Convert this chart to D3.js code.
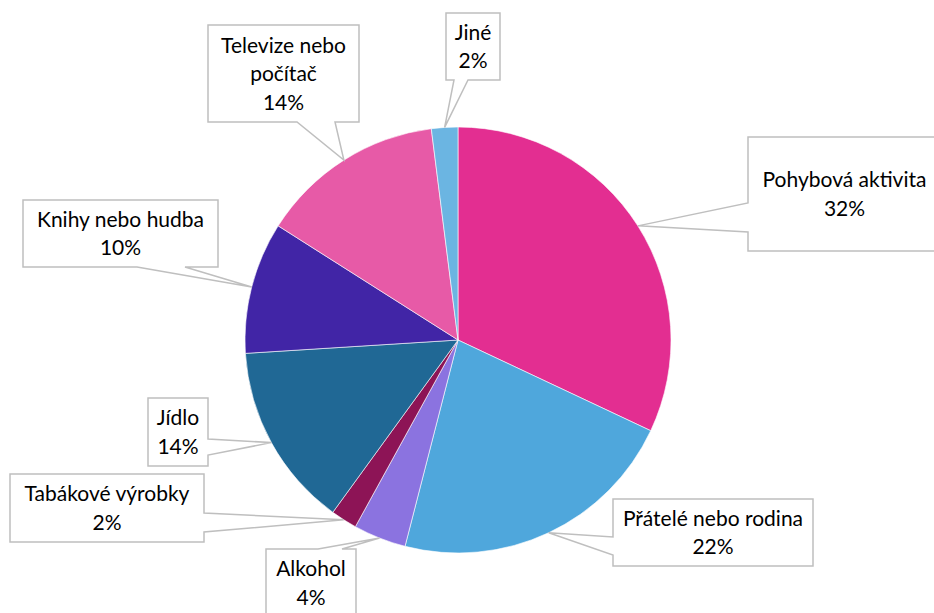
<!DOCTYPE html>
<html>
<head>
<meta charset="utf-8">
<script src="https://cdn.jsdelivr.net/npm/d3@7"></script>
<style>
  html, body { margin: 0; padding: 0; background: #ffffff; }
  svg { display: block; }
  text { font-family: Lato, "Open Sans", sans-serif; fill: #000000; }
</style>
</head>
<body>
<svg id="chart" width="934" height="613"></svg>
<script>
// Categories, shares (%) and slice colours, clockwise from 12 o'clock
const categories = [
  "Pohybová aktivita",
  "Přátelé nebo rodina",
  "Alkohol",
  "Tabákové výrobky",
  "Jídlo",
  "Knihy nebo hudba",
  "Televize nebo počítač",
  "Jiné"
];
const values = [32, 22, 4, 2, 14, 10, 14, 2];
const colors = ["#E32E91", "#4FA7DC", "#8B73E0", "#8D1456", "#206895", "#4125A6", "#E75AA7", "#6BB5E2"];

// Label lines inside each callout (name may wrap)
const labelLines = [
  ["Pohybová aktivita"],
  ["Přátelé nebo rodina"],
  ["Alkohol"],
  ["Tabákové výrobky"],
  ["Jídlo"],
  ["Knihy nebo hudba"],
  ["Televize nebo", "počítač"],
  ["Jiné"]
];

// Callout boxes: [x, y, w, h], side the pointer leaves from, and pointer base span along that side
const callouts = [
  { box: [748, 137, 200, 114], side: "left",   base: [66, 95] },
  { box: [613, 499, 200, 67],  side: "left",   base: [38, 56] },
  { box: [266, 549, 90, 68],   side: "top",    base: [52, 76] },
  { box: [10, 474, 194, 68],   side: "right",  base: [39, 58] },
  { box: [148, 398, 60, 68],   side: "right",  base: [41, 57] },
  { box: [23, 200, 195, 67],   side: "bottom", base: [114, 162] },
  { box: [208, 25, 151, 97],   side: "bottom", base: [89, 127] },
  { box: [446, 13, 54, 67],    side: "bottom", base: [8, 22] }
];

const cx = 458, cy = 340, radius = 213;
const svg = d3.select("#chart");

const data = categories.map((c, i) => ({ name: c, value: values[i], color: colors[i], lines: labelLines[i], callout: callouts[i] }));

const pie = d3.pie().sort(null).value(d => d.value);
const arcs = pie(data);
const arc = d3.arc().innerRadius(0).outerRadius(radius);

const g = svg.append("g").attr("transform", `translate(${cx},${cy})`);
g.selectAll("path.slice")
  .data(arcs)
  .join("path")
  .attr("class", "slice")
  .attr("d", arc)
  .attr("fill", d => d.data.color)
  .attr("stroke", "#ffffff")
  .attr("stroke-width", 0.6);

// Callout shape: rectangle with a wedge running to the slice rim at its mid angle
function calloutPath(d) {
  const [x, y, w, h] = d.data.callout.box;
  const [a, b] = d.data.callout.base;
  const mid = (d.startAngle + d.endAngle) / 2;
  const tx = cx + radius * Math.sin(mid);
  const ty = cy - radius * Math.cos(mid);
  const p = d3.path();
  const side = d.data.callout.side;
  p.moveTo(x, y);
  if (side === "top") { p.lineTo(x + a, y); p.lineTo(tx, ty); p.lineTo(x + b, y); }
  p.lineTo(x + w, y);
  if (side === "right") { p.lineTo(x + w, y + a); p.lineTo(tx, ty); p.lineTo(x + w, y + b); }
  p.lineTo(x + w, y + h);
  if (side === "bottom") { p.lineTo(x + b, y + h); p.lineTo(tx, ty); p.lineTo(x + a, y + h); }
  p.lineTo(x, y + h);
  if (side === "left") { p.lineTo(x, y + b); p.lineTo(tx, ty); p.lineTo(x, y + a); }
  p.closePath();
  return p.toString();
}

const labels = svg.append("g").selectAll("g.callout")
  .data(arcs)
  .join("g")
  .attr("class", "callout");

labels.append("path")
  .attr("d", calloutPath)
  .attr("fill", "#ffffff")
  .attr("stroke", "#BFBFBF")
  .attr("stroke-width", 1.5)
  .attr("stroke-linejoin", "miter");

const lineH = 28.5;
labels.each(function(d) {
  const [x, y, w, h] = d.data.callout.box;
  const lines = d.data.lines.concat([d.data.value + "%"]);
  let mx = x + w / 2;
  if (d.index === 0) mx = 844.5;
  const my = y + h / 2;
  const t = d3.select(this).append("text")
    .attr("text-anchor", "middle")
    .attr("font-size", 21);
  lines.forEach((ln, i) => {
    t.append("tspan")
      .attr("x", mx)
      .attr("y", my + (i - (lines.length - 1) / 2) * lineH)
      .attr("dy", "0.36em")
      .text(ln);
  });
});
</script>
</body>
</html>
